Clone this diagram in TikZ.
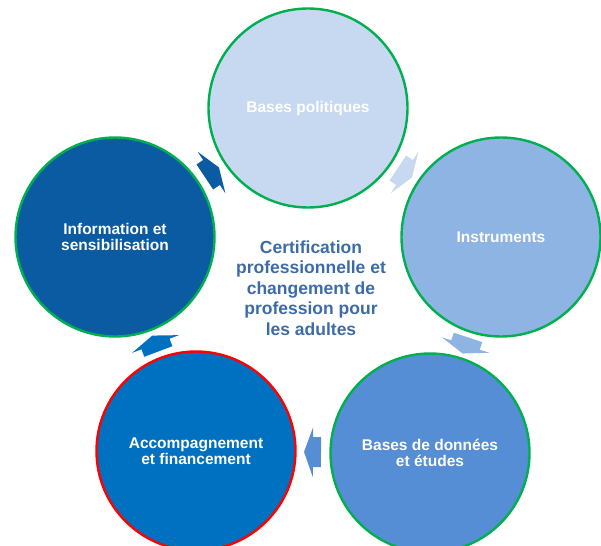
\documentclass[tikz,border=0pt]{standalone}
\usepackage{fontspec}
\setmainfont{Liberation Sans}
\usetikzlibrary{calc}
\pgfdeclarelayer{bg}
\pgfsetlayers{bg,main}
\definecolor{fillA}{HTML}{C6D9F1}
\definecolor{fillB}{HTML}{8EB4E3}
\definecolor{fillC}{HTML}{558ED5}
\definecolor{fillD}{HTML}{0070C0}
\definecolor{fillE}{HTML}{0A5BA2}
\definecolor{ringgreen}{HTML}{00B050}
\definecolor{ringred}{HTML}{FF0000}
\definecolor{midtext}{HTML}{3D6BA8}
\tikzset{
  stage/.style={circle, minimum size=199pt, inner sep=0pt, line width=2.4pt,
    text=white, align=center, font=\fontsize{15.5}{16.5}\selectfont\bfseries},
  centretext/.style={align=center, text=midtext, font=\fontsize{17.5}{20.5}\selectfont\bfseries},
}
\newcommand\cyclearrow[3]{%
  \begin{pgfonlayer}{bg}
  \fill[#3] let \p1=($(#2.center)-(#1.center)$), \n1={atan2(\y1,\x1)},
     \p2=($(#1.center)!0.5!(#2.center)$) in
    ($(\p2)+(\n1:9pt)$) -- ($(\p2)+(\n1+90:25pt)$) -- ($(\p2)+(\n1+90:15pt)$)
    -- ($(\p2)+(\n1+118.07:17pt)$) -- ($(\p2)+(\n1-118.07:17pt)$)
    -- ($(\p2)+(\n1-90:15pt)$) -- ($(\p2)+(\n1-90:25pt)$) -- cycle;
  \end{pgfonlayer}}
\begin{document}
\begin{tikzpicture}[x=1pt,y=-1pt]
\useasboundingbox (0,0) rectangle (601,545);
\clip (0,0) rectangle (601,545);
\node[stage, fill=fillA, draw=ringgreen] (c1) at (308,108) {Bases politiques};
\node[stage, fill=fillB, draw=ringgreen] (c2) at (501,237) {Instruments};
\node[stage, fill=fillC, draw=ringgreen] (c3) at (430,453) {Bases de données\\et études};
\node[stage, fill=fillD, draw=ringred] (c4) at (196,451) {Accompagnement\\et financement};
\node[stage, fill=fillE, draw=ringgreen] (c5) at (115,237) {Information et\\sensibilisation};
\node[centretext] (mid) at (311,288) {Certification\\professionnelle et\\changement de\\profession pour\\les adultes};
\cyclearrow{c1}{c2}{fillA}
\cyclearrow{c2}{c3}{fillB}
\cyclearrow{c3}{c4}{fillC}
\cyclearrow{c4}{c5}{fillD}
\cyclearrow{c5}{c1}{fillE}
\end{tikzpicture}
\end{document}
